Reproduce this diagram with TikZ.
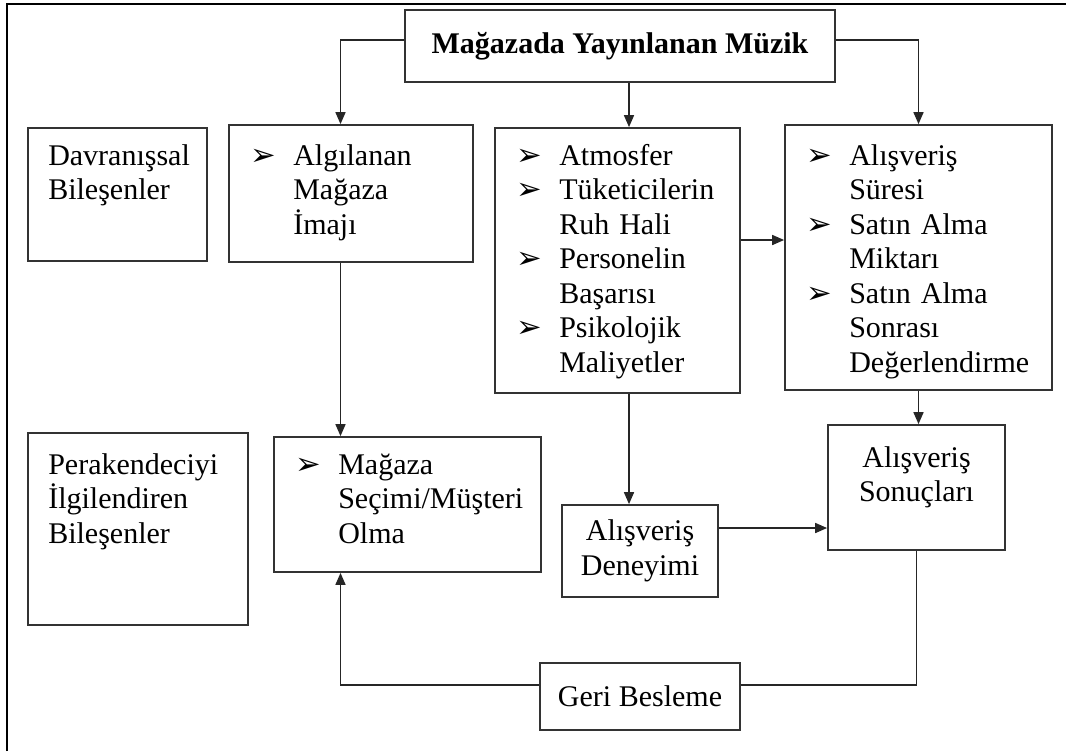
\documentclass[tikz,border=0pt]{standalone}
\usepackage{fontspec}
\setmainfont{Liberation Serif}
\newfontfamily\dingfont{DejaVu Sans}
\usetikzlibrary{arrows.meta, calc}
\def\px{0.75pt}
\def\Lw{1.3pt}
\def\Ind{32.25pt}
\newcommand{\bul}{{\dingfont\fontsize{23}{23}\selectfont ➢}}
\newcommand{\itm}{\noindent\hangindent=\Ind\hangafter=1\makebox[\Ind][l]{\bul}}
\tikzset{
    box/.style={
        draw=black!80, line width=\Lw, inner sep=0pt,
        align=center, font=\fontsize{22.5}{25.9}\selectfont
    },
    txt/.style={
        inner sep=0pt, text width=195pt, anchor=base west,
        font=\fontsize{22.5}{25.9}\selectfont
    },
    arr/.style={draw=black!85, line width=1.2pt, -{Triangle[length=9pt,width=7.5pt]}},
    link/.style={draw=black!85, line width=1.2pt},
    frame/.style={draw=black, line width=2.2pt}
}

\begin{document}
\begin{tikzpicture}[x=\px, y=-\px]
    \useasboundingbox (0,0) rectangle (1066,751);
    \draw[frame] (7,751) -- (7,4) -- (1066,4);

    % boxes (centre, size in px)
    \node[box, minimum width=430*\px, minimum height=72*\px] (top) at (620,46) {\bfseries Mağazada Yayınlanan Müzik};
    \node[box, minimum width=179*\px, minimum height=133*\px] (dav) at (117.5,194.5) {};
    \node[box, minimum width=244*\px, minimum height=137*\px] (alg) at (351,193.5) {};
    \node[box, minimum width=245*\px, minimum height=265*\px] (atm) at (617.5,260.5) {};
    \node[box, minimum width=267*\px, minimum height=265*\px] (res) at (918.5,257.5) {};
    \node[box, minimum width=220*\px, minimum height=192*\px] (per) at (138,529) {};
    \node[box, minimum width=267*\px, minimum height=135*\px] (mag) at (407.5,504.5) {};
    \node[box, minimum width=156*\px, minimum height=92*\px] (dny) at (640,551) {Alışveriş\\Deneyimi};
    \node[box, minimum width=177*\px, minimum height=125*\px] (son) at (916.5,487.5) {};
    \node[box, minimum width=200*\px, minimum height=67*\px] (geri) at (640,696.5) {Geri Besleme};

    % texts
    \node[txt] (davT) at (48,165) {Davranışsal\\Bileşenler};
    \node[txt] (algT) at (250,165) {\itm Algılanan\newline Mağaza\newline İmajı\par};
    \node[txt] (atmT) at (516,165) {\itm Atmosfer\par
        \itm Tüketicilerin\newline Ruh Hali\par
        \itm Personelin\newline Başarısı\par
        \itm Psikolojik\newline Maliyetler\par};
    \node[txt] (resT) at (806,165) {\itm Alışveriş\newline Süresi\par
        \itm Satın Alma\newline Miktarı\par
        \itm Satın Alma\newline Sonrası\newline Değerlendirme\par};
    \node[txt] (perT) at (48,474) {Perakendeciyi\\İlgilendiren\\Bileşenler};
    \node[txt] (magT) at (295,474) {\itm Mağaza\newline Seçimi/Müşteri\newline Olma\par};
    \node[txt, text width=130pt, align=center, anchor=base] (sonT) at (916.5,467) {Alışveriş\\Sonuçları};

    % connectors
    \coordinate (colA) at (340.5,0);
    \coordinate (spine) at (629,0);
    \coordinate (hT) at (0,40);
    \coordinate (hA) at (0,240);
    \coordinate (hB) at (0,528);
    \coordinate (hG) at (0,685);
    \draw[arr] (top.west |- hT) -| (alg.north -| colA);
    \draw[arr] (top.east |- hT) -| (res.north);
    \draw[arr] (top.south -| spine) -- (atm.north -| spine);
    \draw[arr] (atm.south -| spine) -- (dny.north -| spine);
    \draw[arr] (atm.east |- hA) -- (res.west |- hA);
    \draw[arr] (alg.south -| colA) -- (mag.north -| colA);
    \draw[arr] (res.south) -- (res.south |- son.north);
    \draw[arr] (dny.east |- hB) -- (son.west |- hB);
    \draw[link] (son.south) |- (geri.east |- hG);
    \draw[arr] (geri.west |- hG) -| (mag.south -| colA);
\end{tikzpicture}
\end{document}
